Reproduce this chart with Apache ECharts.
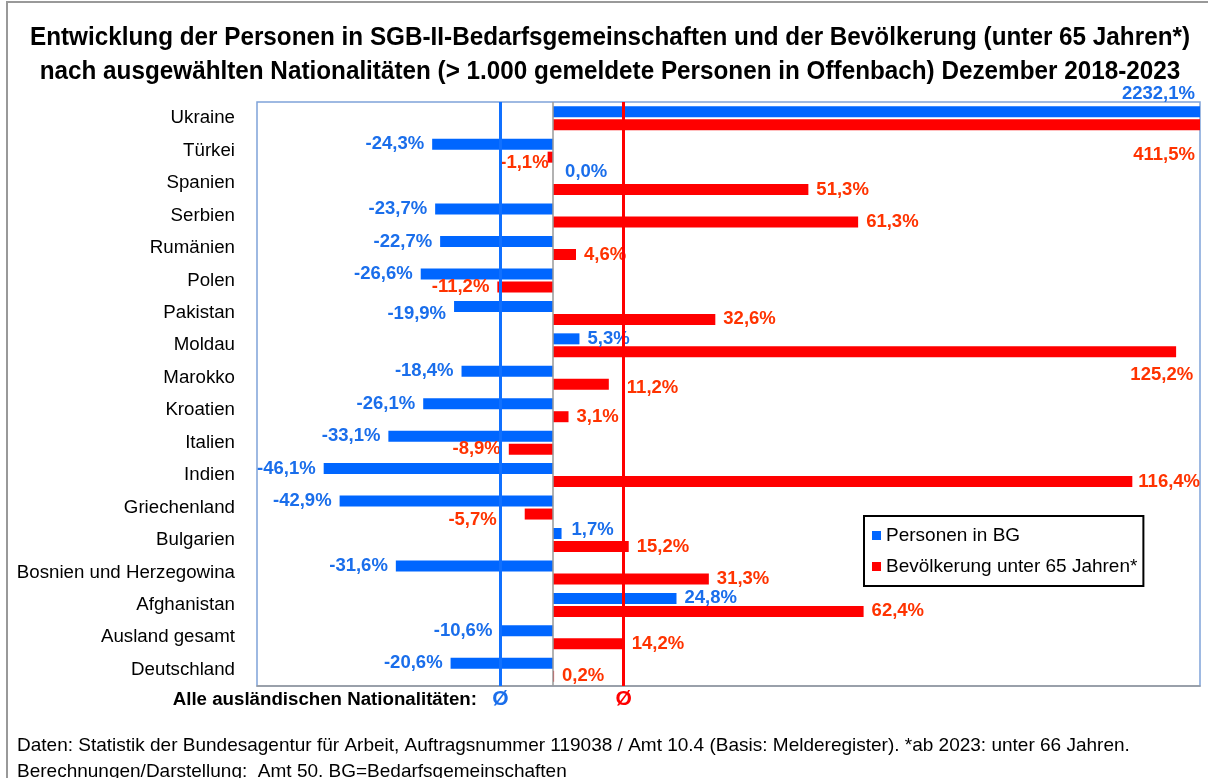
<!DOCTYPE html>
<html>
<head>
<meta charset="utf-8">
<script src="https://cdn.jsdelivr.net/npm/echarts@6/dist/echarts.min.js"></script>
<style>
  html, body { margin: 0; padding: 0; background: #fff; }
  #chart { width: 1208px; height: 778px; }
</style>
</head>
<body>
<div id="chart"></div>
<script>
// Daten
var kategorien = ['Ukraine', 'Türkei', 'Spanien', 'Serbien', 'Rumänien', 'Polen', 'Pakistan', 'Moldau', 'Marokko',
  'Kroatien', 'Italien', 'Indien', 'Griechenland', 'Bulgarien', 'Bosnien und Herzegowina', 'Afghanistan',
  'Ausland gesamt', 'Deutschland']
var personenBG = [2232.1, -24.3, 0.0, -23.7, -22.7, -26.6, -19.9, 5.3, -18.4, -26.1, -33.1, -46.1, -42.9, 1.7, -31.6, 24.8, -10.6, -20.6]
var bevoelkerung = [411.5, -1.1, 51.3, 61.3, 4.6, -11.2, 32.6, 125.2, 11.2, 3.1, -8.9, 116.4, -5.7, 15.2, 31.3, 62.4, 14.2, 0.2]
var durchschnittIndex = 16 // Ausland gesamt

var titelZeile1 = 'Entwicklung der Personen in SGB-II-Bedarfsgemeinschaften und der Bevölkerung (unter 65 Jahren*)'
var titelZeile2 = 'nach ausgewählten Nationalitäten (> 1.000 gemeldete Personen in Offenbach) Dezember 2018-2023'

var FONT = '"Liberation Sans", Arial, sans-serif'
var BLAU = '#0066FF'
var ROT = '#FF0000'
var BLAU_TXT = '#1A6EEB'
var ROT_TXT = '#FF3300'

// Feinkorrekturen der Beschriftungen (nur Stil)
var blauLabel = {
  0: { position: ['100%', 0], align: 'right', verticalAlign: 'bottom', offset: [-5, -3] },
  2: { offset: [4, -5] },
  6: { offset: [0, 8] },
  13: { offset: [2, -4] }
}
var rotLabel = {
  0: { position: ['100%', '100%'], align: 'right', verticalAlign: 'top', offset: [-5, 15] },
  1: { offset: [9, 6] },
  7: { position: ['100%', '100%'], align: 'right', verticalAlign: 'top', offset: [17, 8] },
  8: { offset: [10, 4] },
  11: { offset: [-2, 0] },
  12: { offset: [-20, 6] }
}

function fmt (v) {
  return v.toFixed(1).replace('.', ',') + '%'
}

function baueDaten (werte, tweaks) {
  return werte.map(function (v, i) {
    var lab = { position: v < 0 ? 'left' : 'right' }
    if (tweaks[i]) Object.assign(lab, tweaks[i])
    return { value: v, label: lab }
  })
}

// schmale Titelschrift nachbilden: Breite messen und horizontal stauchen
var ctx = document.createElement('canvas').getContext('2d')
ctx.font = 'bold 26px ' + FONT
var titelScale = 1160 / ctx.measureText(titelZeile1).width

var chart = echarts.init(document.getElementById('chart'))

var option = {
  animation: false,
  title: {
    text: 'Daten: Statistik der Bundesagentur für Arbeit, Auftragsnummer 119038 / Amt 10.4 (Basis: Melderegister). *ab 2023: unter 66 Jahren.\nBerechnungen/Darstellung:  Amt 50. BG=Bedarfsgemeinschaften',
    left: 17,
    top: 733,
    padding: 0,
    textStyle: { fontFamily: FONT, fontSize: 19, fontWeight: 'normal', color: '#000', lineHeight: 26 }
  },
  legend: {
    orient: 'vertical',
    left: 864,
    top: 516,
    itemWidth: 9,
    itemHeight: 9,
    itemGap: 12,
    icon: 'rect',
    padding: [10, 6, 10, 8],
    borderColor: '#000',
    borderWidth: 2,
    backgroundColor: '#fff',
    textStyle: { fontFamily: FONT, fontSize: 19, color: '#000' },
    data: ['Personen in BG', 'Bevölkerung unter 65 Jahren*']
  },
  grid: {
    left: 257,
    right: 8,
    top: 102,
    bottom: 92,
    show: true,
    borderColor: '#7FA3D9',
    borderWidth: 1.5
  },
  xAxis: {
    type: 'value',
    min: -59.5,
    max: 130,
    axisLabel: { show: false },
    axisTick: { show: false },
    splitLine: { show: false },
    axisLine: { show: true, onZero: false, lineStyle: { color: '#999', width: 1.5 } }
  },
  yAxis: {
    type: 'category',
    inverse: true,
    data: kategorien,
    axisLine: { show: false },
    axisTick: { show: false },
    axisLabel: { fontFamily: FONT, fontSize: 18.7, color: '#000', margin: 22 }
  },
  graphic: [
    {
      type: 'rect',
      shape: { x: 7, y: 2, width: 1400, height: 900 },
      style: { fill: 'none', stroke: '#999', lineWidth: 2 },
      silent: true
    },
    {
      type: 'text',
      x: 610,
      y: 38,
      scaleX: titelScale,
      style: {
        text: titelZeile1,
        fontFamily: FONT, fontSize: 26, fontWeight: 'bold',
        fill: '#000', align: 'center', verticalAlign: 'middle'
      }
    },
    {
      type: 'text',
      x: 610,
      y: 72,
      scaleX: titelScale,
      style: {
        text: titelZeile2,
        fontFamily: FONT, fontSize: 26, fontWeight: 'bold',
        fill: '#000', align: 'center', verticalAlign: 'middle'
      }
    },
    {
      type: 'text',
      x: 477,
      y: 700,
      style: {
        text: 'Alle ausländischen Nationalitäten:',
        fontFamily: FONT,
        fontSize: 18.7,
        fontWeight: 'bold',
        fill: '#000',
        align: 'right',
        verticalAlign: 'middle'
      }
    }
  ],
  series: [
    {
      name: 'Personen in BG',
      type: 'bar',
      barWidth: 11,
      barGap: '18%',
      itemStyle: { color: BLAU },
      label: {
        show: true,
        distance: 8,
        fontFamily: FONT,
        fontSize: 18.5,
        fontWeight: 'bold',
        color: BLAU_TXT,
        formatter: function (p) { return fmt(p.value) }
      },
      data: baueDaten(personenBG, blauLabel),
      markLine: {
        silent: true,
        symbol: 'none',
        lineStyle: { type: 'solid', color: '#1070FF', width: 3 },
        label: {
          show: true,
          position: 'end',
          distance: 3,
          formatter: 'Ø',
          fontFamily: FONT,
          fontSize: 21,
          fontWeight: 'bold',
          color: BLAU_TXT
        },
        data: [{ xAxis: personenBG[durchschnittIndex] }]
      }
    },
    {
      name: 'Bevölkerung unter 65 Jahren*',
      type: 'bar',
      barWidth: 11,
      barGap: '18%',
      itemStyle: { color: ROT },
      label: {
        show: true,
        distance: 8,
        fontFamily: FONT,
        fontSize: 18.5,
        fontWeight: 'bold',
        color: ROT_TXT,
        formatter: function (p) { return fmt(p.value) }
      },
      data: baueDaten(bevoelkerung, rotLabel),
      markLine: {
        silent: true,
        symbol: 'none',
        data: [
          {
            xAxis: bevoelkerung[durchschnittIndex],
            lineStyle: { type: 'solid', color: ROT, width: 3 },
            label: {
              show: true,
              position: 'end',
              distance: 3,
              formatter: 'Ø',
              fontFamily: FONT,
              fontSize: 21,
              fontWeight: 'bold',
              color: ROT
            }
          },
          {
            xAxis: 0,
            lineStyle: { type: 'solid', color: '#999', width: 1.5 },
            label: { show: false }
          }
        ]
      }
    }
  ]
}

chart.setOption(option)
</script>
</body>
</html>
